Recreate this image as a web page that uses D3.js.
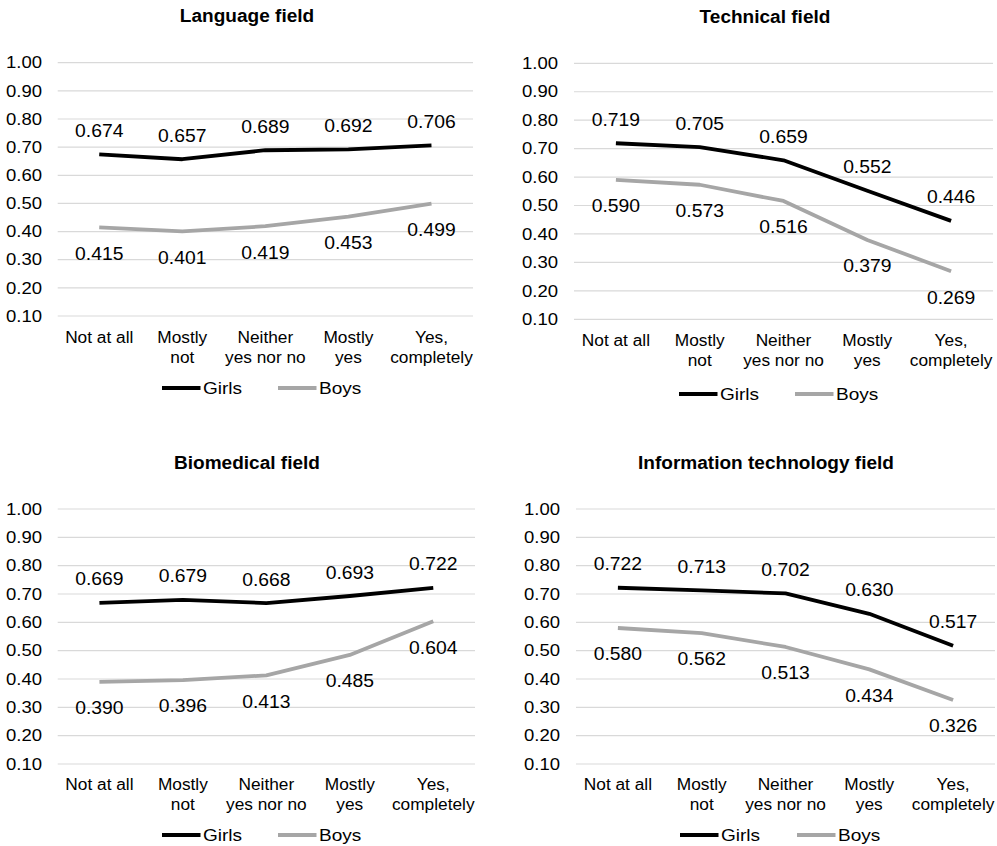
<!DOCTYPE html>
<html>
<head>
<meta charset="utf-8">
<script src="https://cdn.jsdelivr.net/npm/d3@7"></script>
<style>
  html, body { margin: 0; padding: 0; background: #fff; }
  svg { display: block; font-family: "Liberation Sans", Arial, sans-serif; }
</style>
</head>
<body>
<svg id="chart" width="997" height="846"></svg>
<script>
const categories = [["Not at all"], ["Mostly", "not"], ["Neither", "yes nor no"], ["Mostly", "yes"], ["Yes,", "completely"]];
const yTicks = [0.1, 0.2, 0.3, 0.4, 0.5, 0.6, 0.7, 0.8, 0.9, 1.0];
const seriesNames = ["Girls", "Boys"];
const seriesColors = ["#000000", "#a6a6a6"];

const titles = ["Language field", "Technical field", "Biomedical field", "Information technology field"];
const languageGirls = [0.674, 0.657, 0.689, 0.692, 0.706];
const languageBoys  = [0.415, 0.401, 0.419, 0.453, 0.499];
const technicalGirls = [0.719, 0.705, 0.659, 0.552, 0.446];
const technicalBoys  = [0.590, 0.573, 0.516, 0.379, 0.269];
const biomedicalGirls = [0.669, 0.679, 0.668, 0.693, 0.722];
const biomedicalBoys  = [0.390, 0.396, 0.413, 0.485, 0.604];
const itGirls = [0.722, 0.713, 0.702, 0.630, 0.517];
const itBoys  = [0.580, 0.562, 0.513, 0.434, 0.326];

const panelData = [
  [languageGirls, languageBoys],
  [technicalGirls, technicalBoys],
  [biomedicalGirls, biomedicalBoys],
  [itGirls, itBoys]
];

const layouts = [
  {x0: 57.7, x1: 473, yTop: 62.7, yBot: 316, titleX: 247, titleY: 15, tickX: 42, catY: 337, legY: 388, legG: 162, legB: 278},
  {x0: 574, x1: 993, yTop: 63.3, yBot: 319.3, titleX: 765, titleY: 16, tickX: 558, catY: 340, legY: 394, legG: 679, legB: 795},
  {x0: 57.7, x1: 475, yTop: 509, yBot: 764, titleX: 247, titleY: 462, tickX: 42, catY: 784, legY: 835, legG: 162, legB: 278},
  {x0: 576, x1: 995, yTop: 509, yBot: 764, titleX: 766, titleY: 462, tickX: 560, catY: 784, legY: 835, legG: 680, legB: 797}
];

const svg = d3.select("#chart");

function label(parent, x, y, lines, opts) {
  const o = Object.assign({anchor: "middle", size: 17.3, sx: 1, weight: "normal"}, opts || {});
  const t = parent.append("g")
    .attr("transform", `translate(${x},${y}) scale(${o.sx},1)`)
    .append("text")
    .attr("text-anchor", o.anchor)
    .attr("dominant-baseline", "central")
    .attr("font-size", o.size)
    .attr("font-weight", o.weight)
    .attr("fill", "#000");
  lines.forEach((ln, k) => {
    t.append("tspan").attr("x", 0).attr("dy", k === 0 ? 0 : 20).text(ln);
  });
  return t;
}

layouts.forEach((L, pi) => {
  const g = svg.append("g");
  const x = d3.scalePoint().domain(d3.range(categories.length)).range([L.x0, L.x1]).padding(0.5);
  const y = d3.scaleLinear().domain([0.1, 1.0]).range([L.yBot, L.yTop]);

  label(g, L.titleX, L.titleY, [titles[pi]], {size: 18.5, sx: 1.03, weight: "bold"});

  g.selectAll(".grid").data(yTicks).enter().append("line")
    .attr("x1", L.x0).attr("x2", L.x1)
    .attr("y1", d => y(d)).attr("y2", d => y(d))
    .attr("stroke", "#d9d9d9").attr("stroke-width", 1.2);

  yTicks.forEach(d => label(g, L.tickX, y(d), [d3.format(".2f")(d)], {anchor: "end", size: 17, sx: 1.09}));

  categories.forEach((lines, i) => label(g, x(i), L.catY, lines, {size: 17.3}));

  const line = d3.line().x((d, i) => x(i)).y(d => y(d));
  panelData[pi].forEach((vals, si) => {
    g.append("path").datum(vals)
      .attr("d", line)
      .attr("fill", "none")
      .attr("stroke", seriesColors[si])
      .attr("stroke-width", 3.8)
      .attr("stroke-linejoin", "round");
  });

  panelData[pi].forEach((vals, si) => {
    vals.forEach((d, i) => label(g, x(i), y(d) + (si === 0 ? -24.3 : 25.5), [d3.format(".3f")(d)], {size: 18.5, sx: 1.045}));
  });

  [L.legG, L.legB].forEach((lx, si) => {
    g.append("line")
      .attr("x1", lx).attr("x2", lx + 38.5)
      .attr("y1", L.legY).attr("y2", L.legY)
      .attr("stroke", seriesColors[si]).attr("stroke-width", 3.8);
    label(g, lx + 41, L.legY, [seriesNames[si]], {anchor: "start", size: 17.3, sx: 1.1});
  });
});
</script>
</body>
</html>
